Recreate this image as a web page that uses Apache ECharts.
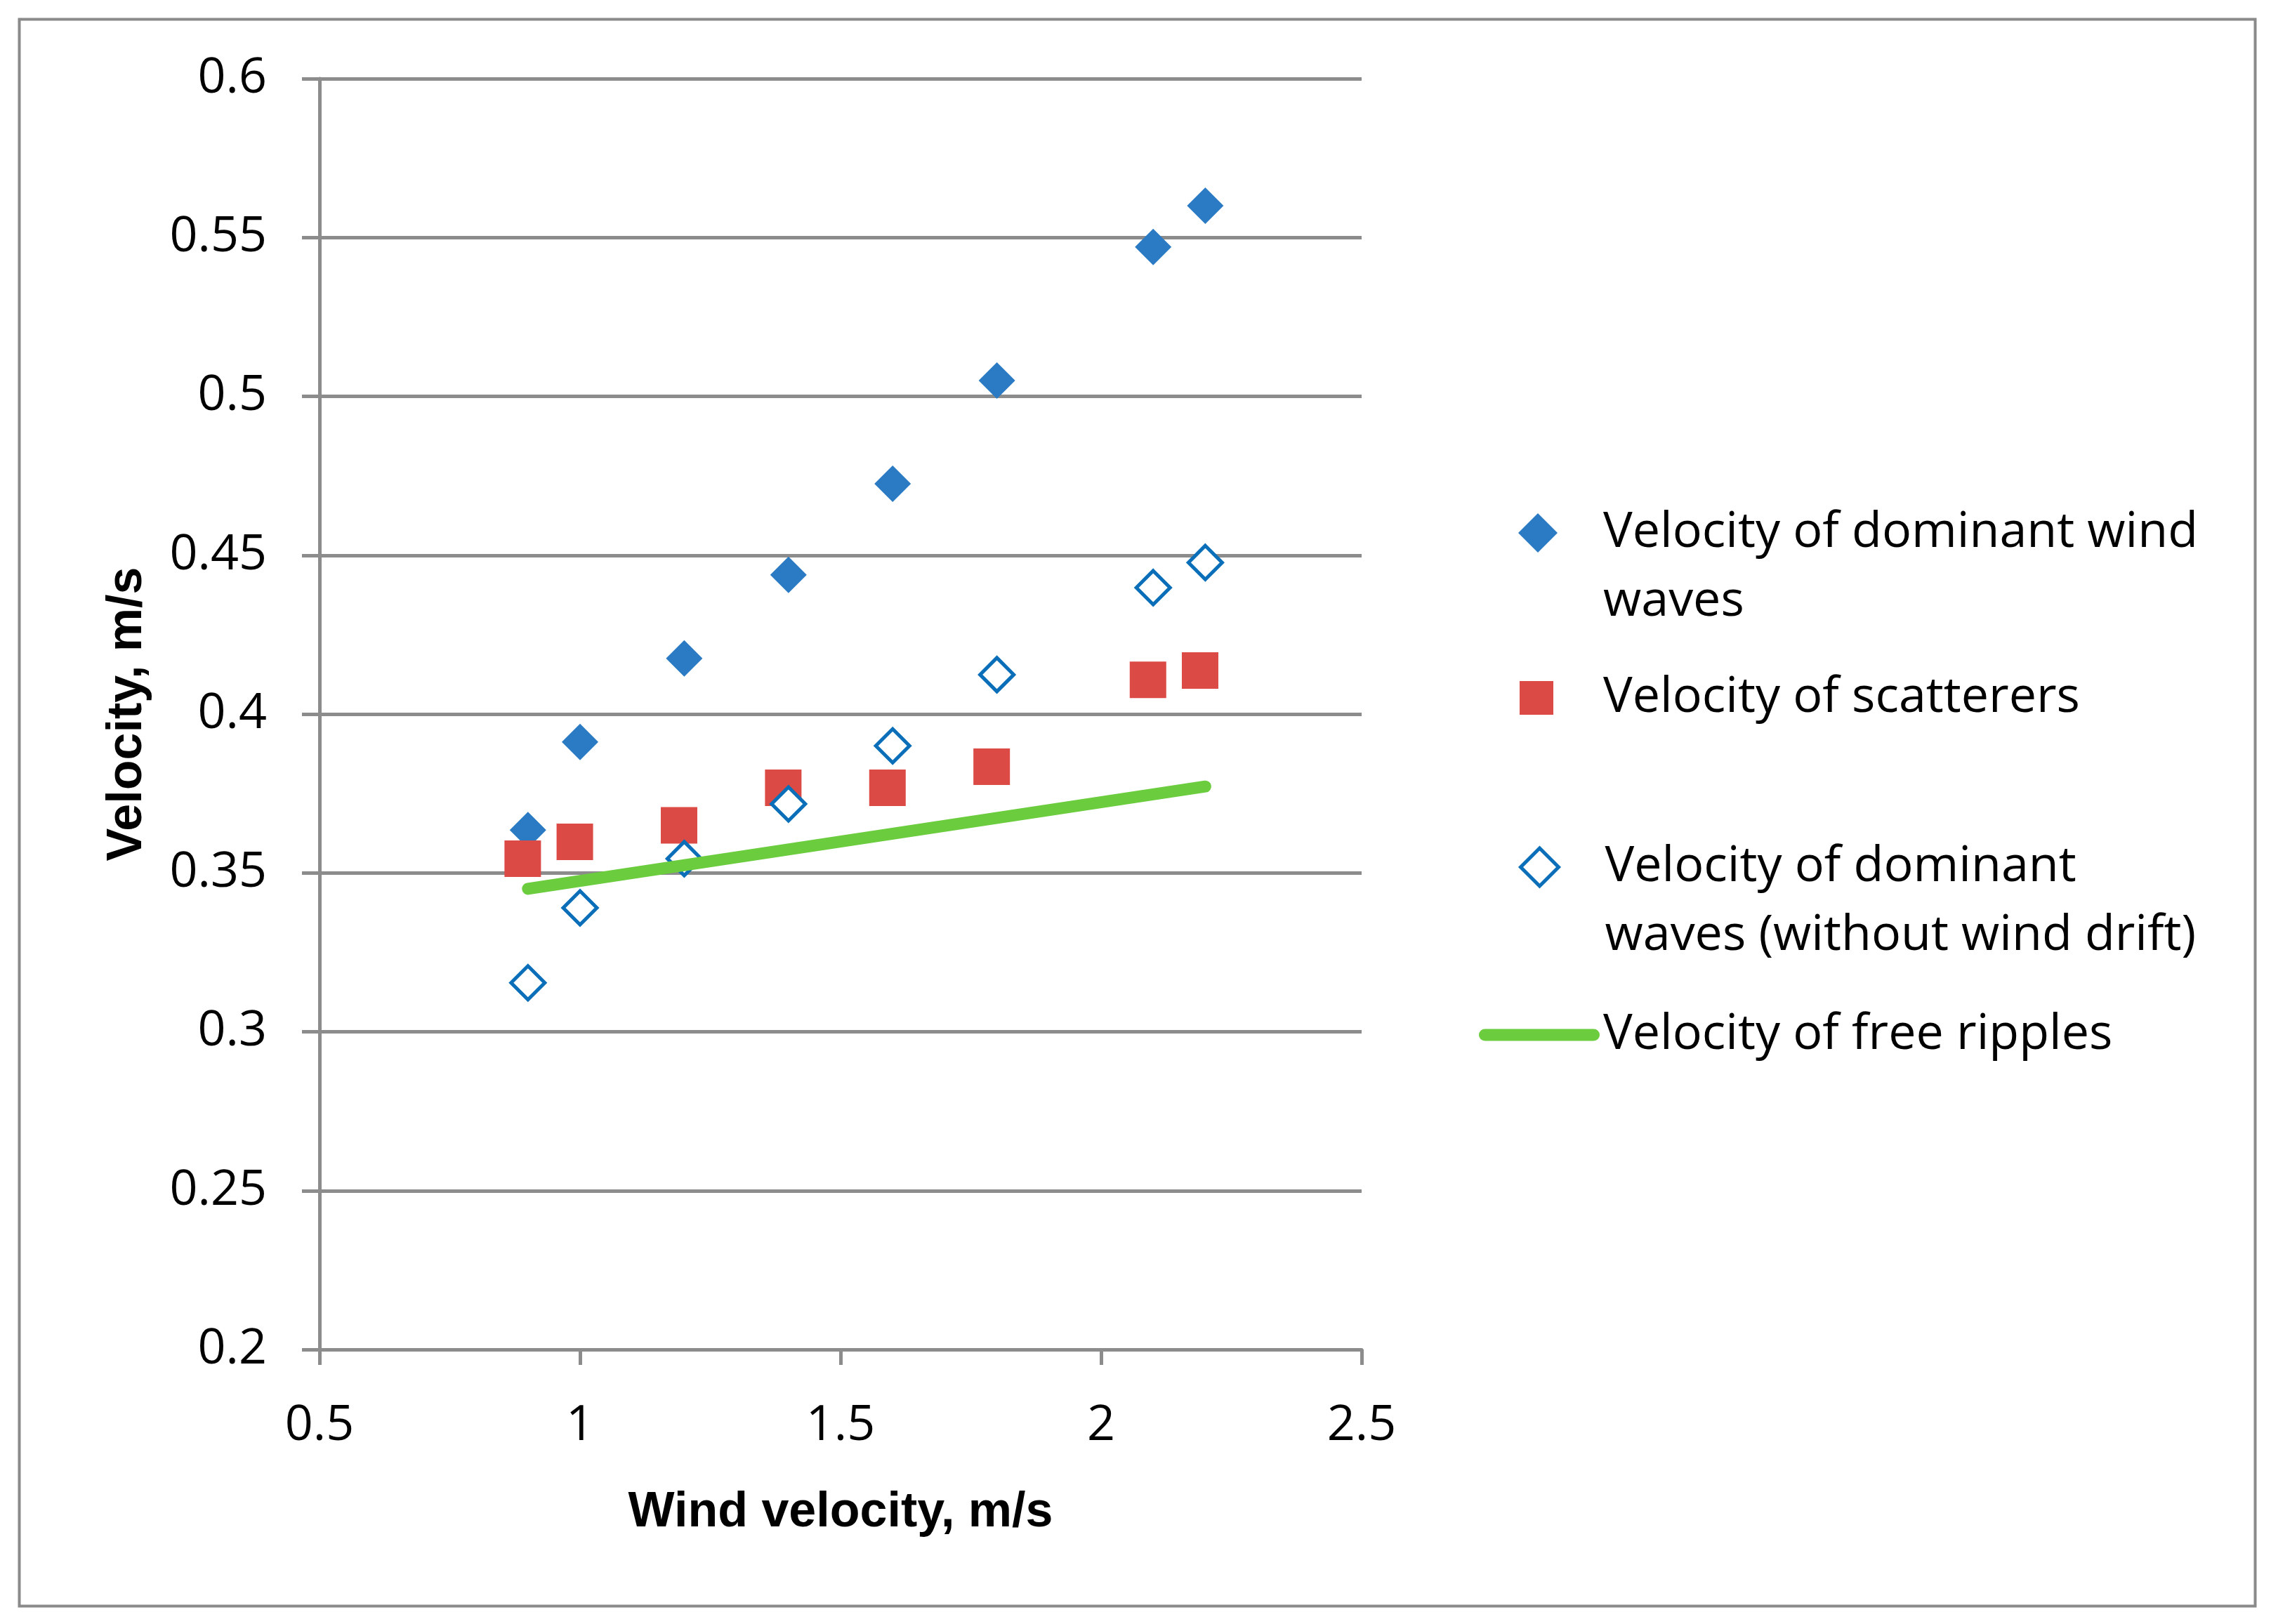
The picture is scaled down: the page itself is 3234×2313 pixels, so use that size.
<!DOCTYPE html>
<html>
<head>
<meta charset="utf-8">
<script src="https://cdn.jsdelivr.net/npm/echarts@6/dist/echarts.min.js"></script>
<style>
html,body{margin:0;padding:0;background:#fff;}
#chart{width:3234px;height:2313px;}
</style>
</head>
<body>
<div id="chart"></div>
<script>
// ---- data ----
const windX = [0.9, 1.0, 1.2, 1.4, 1.6, 1.8, 2.1, 2.2];
const scattererX = [0.89, 0.99, 1.19, 1.39, 1.59, 1.79, 2.09, 2.19];
const dominantWindWaves = [0.3635, 0.3912, 0.4175, 0.4438, 0.4725, 0.505, 0.547, 0.560];
const scatterers = [0.3545, 0.3598, 0.365, 0.3768, 0.3768, 0.3834, 0.4108, 0.4137];
const dominantNoDrift = [0.3154, 0.339, 0.3545, 0.3717, 0.390, 0.4124, 0.4398, 0.4477];
const ripplesX = [0.9, 2.2];
const freeRipples = [0.345, 0.3772];
const xTicks = {min: 0.5, max: 2.5, interval: 0.5};
const yTicks = {min: 0.2, max: 0.6, interval: 0.05};

const names = [
  'Velocity of dominant wind waves',
  'Velocity of scatterers',
  'Velocity of dominant waves (without wind drift)',
  'Velocity of free ripples'
];
const legendText = {};
legendText[names[0]] = '\nVelocity of dominant wind\nwaves';
legendText[names[1]] = 'Velocity of scatterers';
legendText[names[2]] = '\nVelocity of dominant\nwaves (without wind drift)';
legendText[names[3]] = 'Velocity of free ripples';

const zip = (xs, ys) => xs.map((x, i) => [x, ys[i]]);

const gridColor = '#8c8c8c';
const blue = '#2b7bc4';
const red = '#dc4a45';
const hollowBlue = '#0a6fb8';
const green = '#6bcc3e';
const tickFont = 'Open Sans';

const legendTextStyle = (padLeft) => ({fontFamily: tickFont, fontSize: 70, color: '#000', lineHeight: 98, padding: [0, 0, 0, padLeft]});
const legendFormatter = n => legendText[n];

const chart = echarts.init(document.getElementById('chart'));
chart.setOption({
  backgroundColor: '#fff',
  animation: false,
  graphic: [{
    type: 'rect', left: 25, top: 25, z: -1,
    shape: {width: 3184, height: 2260},
    style: {fill: 'none', stroke: '#8a8a8a', lineWidth: 4}
  }],
  grid: {left: 455, right: 1295, top: 112, bottom: 391, containLabel: false},
  xAxis: {
    type: 'value', min: xTicks.min, max: xTicks.max, interval: xTicks.interval,
    name: 'Wind velocity, m/s', nameLocation: 'middle', nameGap: 198,
    nameTextStyle: {fontFamily: 'Liberation Sans', fontWeight: 'bold', fontSize: 70, color: '#000'},
    axisLine: {show: true, lineStyle: {color: gridColor, width: 5}},
    axisTick: {show: true, length: 22, lineStyle: {color: gridColor, width: 5}},
    splitLine: {show: false},
    axisLabel: {fontFamily: tickFont, fontSize: 70, color: '#000', margin: 74}
  },
  yAxis: {
    type: 'value', min: yTicks.min, max: yTicks.max, interval: yTicks.interval,
    name: 'Velocity, m/s', nameLocation: 'middle', nameGap: 238,
    nameTextStyle: {fontFamily: 'Liberation Sans', fontWeight: 'bold', fontSize: 70, color: '#000'},
    axisLine: {show: true, lineStyle: {color: gridColor, width: 5}},
    axisTick: {show: true, length: 25, lineStyle: {color: gridColor, width: 5}},
    splitLine: {show: true, lineStyle: {color: gridColor, width: 5}},
    axisLabel: {fontFamily: tickFont, fontSize: 70, color: '#000', margin: 75,
      formatter: v => String(Math.round(v * 100) / 100)}
  },
  legend: [
    {data: [{name: names[0], icon: 'diamond'}], left: 2162, top: 612, orient: 'vertical',
     padding: 0, itemGap: 0, itemWidth: 56, itemHeight: 56, textStyle: legendTextStyle(60), formatter: legendFormatter, selectedMode: false},
    {data: [{name: names[1], icon: 'rect'}], left: 2164, top: 945, orient: 'vertical',
     padding: 0, itemGap: 0, itemWidth: 48, itemHeight: 48, textStyle: legendTextStyle(66), formatter: legendFormatter, selectedMode: false},
    {data: [{name: names[2], icon: 'diamond', itemStyle: {color: '#fff', borderColor: hollowBlue, borderWidth: 5}}],
     left: 2163, top: 1088, orient: 'vertical',
     padding: 0, itemGap: 0, itemWidth: 54, itemHeight: 54, textStyle: legendTextStyle(61), formatter: legendFormatter, selectedMode: false},
    {data: [{name: names[3], icon: 'path://M8.5,0 L161.5,0 A8.5,8.5 0 0 1 161.5,17 L8.5,17 A8.5,8.5 0 0 1 8.5,0 Z', itemStyle: {color: green}}],
     left: 2106, top: 1425, orient: 'vertical', symbolKeepAspect: false,
     padding: 0, itemGap: 0, itemWidth: 172, itemHeight: 17, textStyle: legendTextStyle(0), formatter: legendFormatter, selectedMode: false}
  ],
  series: [
    {name: names[0], type: 'scatter', data: zip(windX, dominantWindWaves),
     symbol: 'diamond', symbolSize: 52, itemStyle: {color: blue, opacity: 1}, z: 2},
    {name: names[1], type: 'scatter', data: zip(scattererX, scatterers),
     symbol: 'rect', symbolSize: 52, itemStyle: {color: red, opacity: 1}, z: 3},
    {name: names[2], type: 'scatter', data: zip(windX, dominantNoDrift),
     symbol: 'diamond', symbolSize: 48,
     itemStyle: {color: '#fff', borderColor: hollowBlue, borderWidth: 5, opacity: 1}, z: 4},
    {name: names[3], type: 'line', data: zip(ripplesX, freeRipples),
     symbol: 'none', color: green,
     lineStyle: {color: green, width: 17, cap: 'round'}, z: 5}
  ]
});
</script>
</body>
</html>
